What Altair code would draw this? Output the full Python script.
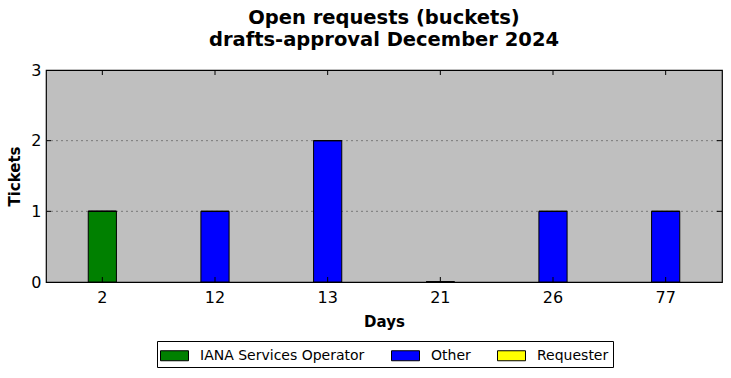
import altair as alt
import pandas as pd

days = ["2", "12", "13", "21", "26", "77"]
series = ["IANA Services Operator", "Other", "Requester"]
iana = [1, 0, 0, 0, 0, 0]
other = [0, 1, 2, 0, 1, 1]
requester = [0, 0, 0, 0, 0, 0]
colors = ["#008000", "#0000ff", "#ffff00"]
y_ticks = [0, 1, 2, 3]
grid_values = [1, 2]

rows = []
for i, d in enumerate(days):
    for s, vals in zip(series, [iana, other, requester]):
        rows.append({"day": d, "series": s, "order": series.index(s), "tickets": vals[i]})
df = pd.DataFrame(rows)
df_days = pd.DataFrame({"day": days})
df_y = pd.DataFrame({"y": grid_values})

FONT = "DejaVu Sans"
W, H = 676, 212

xscale = alt.Scale(domain=days, paddingInner=0.75, paddingOuter=0.375)
yscale = alt.Scale(domain=[0, 3], nice=False)

grid = alt.Chart(df_y).mark_rule(color="#7a7a7a", strokeWidth=1, strokeDash=[2, 3]).encode(
    y=alt.Y("y:Q", scale=yscale), x=alt.value(0), x2=alt.value(W))

bars = alt.Chart(df).mark_bar(stroke="black", strokeWidth=1, opacity=1).encode(
    x=alt.X("day:N", scale=xscale, sort=days,
            axis=alt.Axis(title="Days", labelAngle=0, labelFontSize=16, labelFont=FONT,
                          labelColor="black", titleFont=FONT, titleFontSize=15,
                          titleFontWeight="bold", titleColor="black", titlePadding=9,
                          ticks=False, domain=False, labelPadding=7)),
    y=alt.Y("tickets:Q", stack="zero", scale=yscale,
            axis=alt.Axis(title="Tickets", values=y_ticks, format="d", labelFontSize=16,
                          labelFont=FONT, labelColor="black", titleFont=FONT,
                          titleFontSize=15, titleFontWeight="bold", titleColor="black",
                          titlePadding=8, ticks=False, domain=False, labelPadding=5,
                          grid=False)),
    color=alt.Color("series:N", scale=alt.Scale(domain=series, range=colors),
                    legend=alt.Legend(title=None, orient="none", direction="horizontal",
                                      columns=3, legendX=111, legendY=271,
                                      symbolType="M-1.4,-0.5H1.4V0.5H-1.4Z",
                                      symbolSize=400, symbolStrokeColor="black",
                                      symbolStrokeWidth=1, symbolOpacity=1,
                                      symbolOffset=3,
                                      labelFont=FONT, labelFontSize=14, labelColor="black",
                                      labelOffset=15, labelLimit=400, columnPadding=24,
                                      strokeColor="black", padding=4,
                                      fillColor="white")),
    order=alt.Order("order:Q"),
)

top_ticks = alt.Chart(df_days).mark_rule(color="black", strokeWidth=1).encode(
    x=alt.X("day:N", scale=xscale, sort=days),
    y=alt.value(0), y2=alt.value(5))
bot_ticks = alt.Chart(df_days).mark_rule(color="black", strokeWidth=1).encode(
    x=alt.X("day:N", scale=xscale, sort=days),
    y=alt.value(H - 5), y2=alt.value(H))
left_ticks = alt.Chart(df_y).mark_rule(color="black", strokeWidth=1).encode(
    y=alt.Y("y:Q", scale=yscale), x=alt.value(0), x2=alt.value(5))
right_ticks = alt.Chart(df_y).mark_rule(color="black", strokeWidth=1).encode(
    y=alt.Y("y:Q", scale=yscale), x=alt.value(W - 5), x2=alt.value(W))

chart = alt.layer(grid, bars, top_ticks, bot_ticks, left_ticks, right_ticks).properties(
    width=W, height=H,
    title=alt.TitleParams(["Open requests (buckets)", "drafts-approval December 2024"],
                          font=FONT, fontSize=19.5, fontWeight="bold", color="black",
                          anchor="middle", offset=12, lineHeight=22),
    autosize=alt.AutoSizeParams(type="none"),
    padding={"left": 46, "top": 70, "right": 9, "bottom": 96},
    background="white",
).configure_view(fill="#bfbfbf", stroke="black", strokeWidth=1.2)

chart.save("out.html", embed_options={"renderer": "svg", "actions": False})
